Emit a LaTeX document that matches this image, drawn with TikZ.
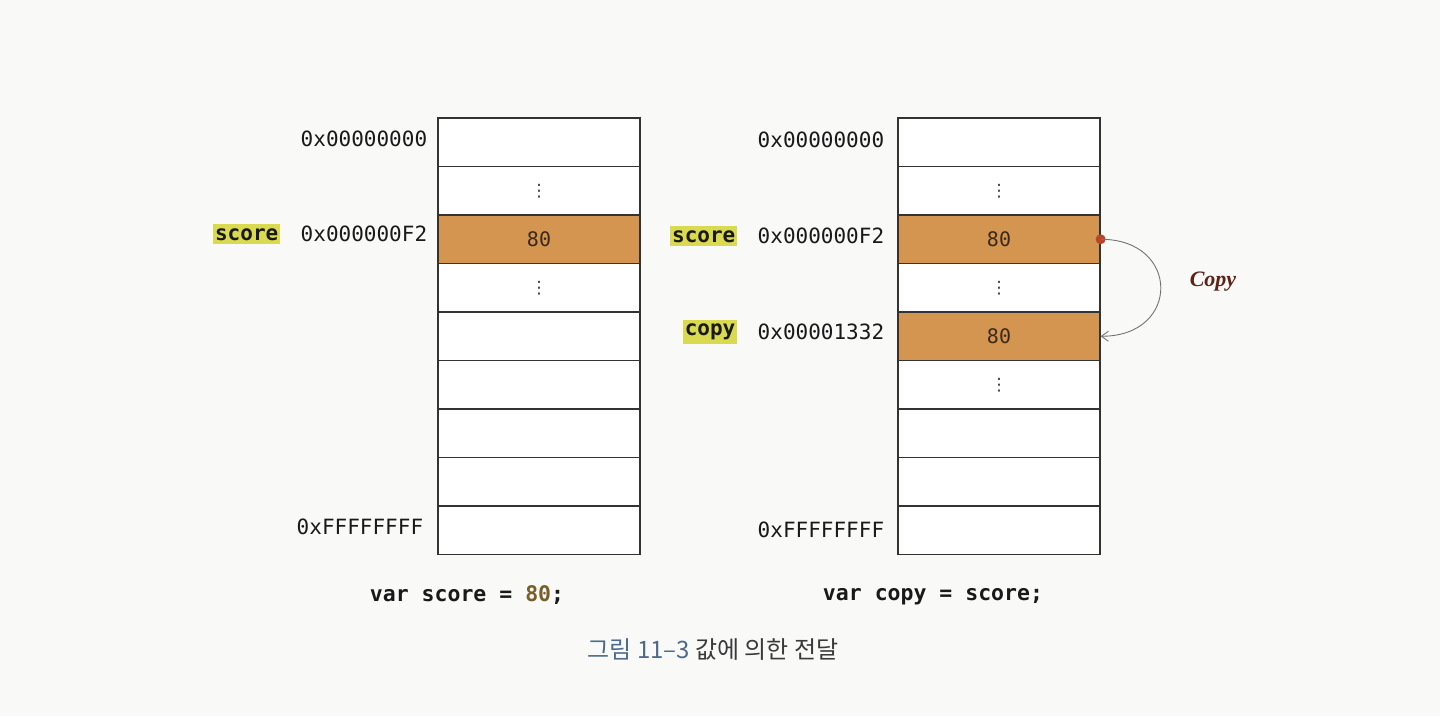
\documentclass[tikz,border=0pt]{standalone}
\usepackage{fontspec}
\newfontfamily\mono{DejaVu Sans Mono}
\newfontfamily\kr{Noto Sans CJK KR}
\newfontfamily\dejavu{DejaVu Sans}
\newfontfamily\cserif{Liberation Serif}
\usetikzlibrary{arrows.meta}
\definecolor{paper}{HTML}{F9F9F7}
\definecolor{cellfill}{HTML}{D39550}
\definecolor{hl}{HTML}{DADA50}
\definecolor{dotred}{HTML}{B5462A}
\definecolor{copyred}{HTML}{5A2418}
\definecolor{numcol}{HTML}{7A5E2A}
\definecolor{capblue}{HTML}{4D6A8C}
\definecolor{capgray}{HTML}{3A3A3A}
\definecolor{valcol}{HTML}{3A2A1A}
\tikzset{
  cell/.style={draw=black!80, line width=1.3pt, minimum width=202pt, minimum height=48.5pt, inner sep=0pt, fill=white},
  hot/.style={cell, fill=cellfill},
  addr/.style={font=\mono\fontsize{21}{24}\selectfont, text=black!90, inner sep=0pt, anchor=east},
  varlab/.style={font=\mono\bfseries\fontsize{21}{24}\selectfont, fill=hl, inner xsep=2pt, inner ysep=4pt, text=black!90, anchor=east},
  val/.style={font=\mono\fontsize{20}{24}\selectfont, text=valcol, inner sep=0pt},
  vd/.style={font=\dejavu\fontsize{17}{18}\selectfont, text=black!80, inner sep=0pt},
  code/.style={font=\mono\bfseries\fontsize{21.5}{24}\selectfont, text=black!90, inner sep=0pt},
  copyarrow/.style={draw=black!55, line width=0.9pt, -{Straight Barb[length=7pt,width=10pt]}},
}
\begin{document}
\begin{tikzpicture}[x=1pt,y=-1pt]
\useasboundingbox (0,0) rectangle (1440,716);
\fill[paper] (0,0) rectangle (1440,716);
% left column
\foreach \i in {0,1,3,4,5,6,7,8}
  \node[cell] (L\i) at (539, {142.25+48.5*\i}) {};
\node[hot] (L2) at (539, {142.25+48.5*2}) {};
% right column
\foreach \i in {0,1,3,5,6,7,8}
  \node[cell] (R\i) at (999, {142.25+48.5*\i}) {};
\node[hot] (R2) at (999, {142.25+48.5*2}) {};
\node[hot] (R4) at (999, {142.25+48.5*4}) {};
% cell contents
\node[val] (Lv2) at (L2) {80};
\node[vd] (Ld1) at (L1) {⋮};
\node[vd] (Ld3) at (L3) {⋮};
\node[val] (Rv2) at (R2) {80};
\node[val] (Rv4) at (R4) {80};
\node[vd] (Rd1) at (R1) {⋮};
\node[vd] (Rd3) at (R3) {⋮};
\node[vd] (Rd5) at (R5) {⋮};
% addresses
\node[addr] (La0) at ([xshift=-10pt,yshift=3pt]L0.west) {0x00000000};
\node[addr] (La2) at ([xshift=-10pt,yshift=5pt]L2.west) {0x000000F2};
\node[addr] (La8) at ([xshift=-14pt,yshift=3pt]L8.west) {0xFFFFFFFF};
\node[addr] (Ra0) at ([xshift=-13pt,yshift=2pt]R0.west) {0x00000000};
\node[addr] (Ra2) at ([xshift=-13pt,yshift=3pt]R2.west) {0x000000F2};
\node[addr] (Ra4) at ([xshift=-13pt,yshift=4pt]R4.west) {0x00001332};
\node[addr] (Ra8) at ([xshift=-13pt,yshift=0pt]R8.west) {0xFFFFFFFF};
% variable labels
\node[varlab] (Ls) at ([xshift=-20pt]La2.west) {score};
\node[varlab] (Rs) at ([xshift=-20pt]Ra2.west) {score};
\node[varlab] (Rc) at ([xshift=-20pt]Ra4.west) {copy};
% copy arrow
\node[circle, fill=dotred, minimum size=10pt, inner sep=0pt] (dot) at (R2.east) {};
\draw[copyarrow] (dot.center) .. controls +(80,0) and +(80,0) .. (R4.east);
\node[font=\cserif\bfseries\itshape\fontsize{22}{24}\selectfont, text=copyred] (cp) at (1213,282) {Copy};
% code lines
\node[code] (c1) at (467,595) {var score = \textcolor{numcol}{80};};
\node[code] (c2) at (933,597) {var copy = score;};
% caption
\node[font=\kr\fontsize{24}{28}\selectfont, text=capgray] (cap) at (713,650) {\textcolor{capblue}{그림 11–3} 값에 의한 전달};
\end{tikzpicture}
\end{document}
